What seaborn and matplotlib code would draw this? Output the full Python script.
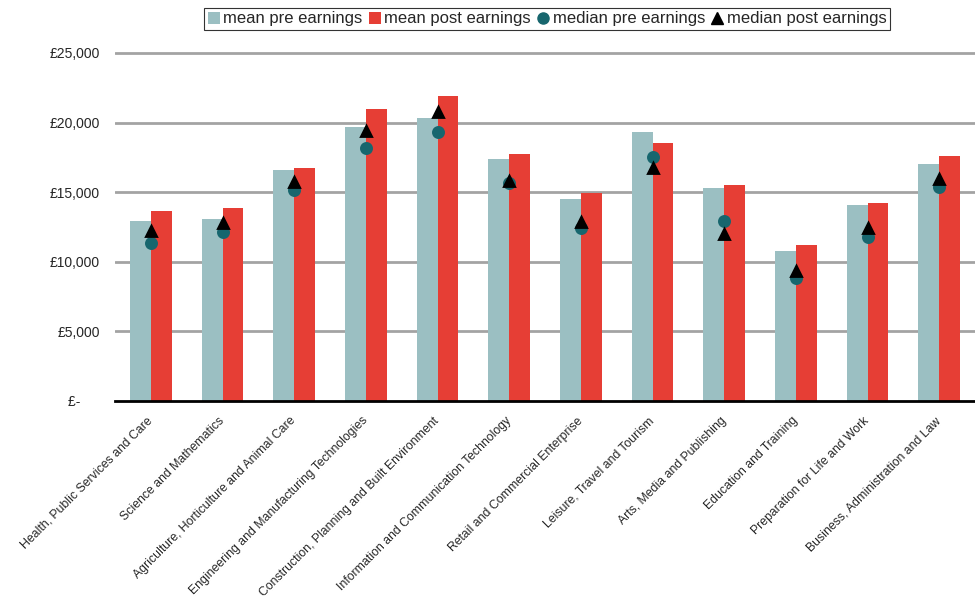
import numpy as np
import pandas as pd
import matplotlib
matplotlib.use("Agg")
import matplotlib.pyplot as plt
from matplotlib.ticker import FixedLocator
from matplotlib.lines import Line2D
from matplotlib.patches import Patch
import seaborn as sns

categories = [
    "Health, Public Services and Care",
    "Science and Mathematics",
    "Agriculture, Horticulture and Animal Care",
    "Engineering and Manufacturing Technologies",
    "Construction, Planning and Built Environment",
    "Information and Communication Technology",
    "Retail and Commercial Enterprise",
    "Leisure, Travel and Tourism",
    "Arts, Media and Publishing",
    "Education and Training",
    "Preparation for Life and Work",
    "Business, Administration and Law",
]
mean_pre = [12930, 13070, 16590, 19680, 20330, 17390, 14510, 19320, 15300, 10780, 14080, 17030]
mean_post = [13650, 13890, 16740, 20980, 21910, 17740, 14940, 18530, 15520, 11210, 14220, 17600]
median_pre = [11370, 12120, 15160, 18150, 19290, 15640, 12400, 17560, 12910, 8840, 11800, 15370]
median_post = [12230, 12810, 15760, 19420, 20730, 15800, 12840, 16760, 12000, 9360, 12400, 15970]
y_ticks = [0, 5000, 10000, 15000, 20000, 25000]
y_tick_labels = ["£-     ", "£5,000", "£10,000", "£15,000", "£20,000", "£25,000"]
series_names = ["mean pre earnings", "mean post earnings", "median pre earnings", "median post earnings"]

c_pre = "#9BBFC2"
c_post = "#E63E35"
c_med_pre = "#17666E"
c_med_post = "#000000"

sns.set_style("white")
plt.rcParams["font.family"] = ["Liberation Sans", "DejaVu Sans"]

bars = pd.DataFrame({
    "category": categories * 2,
    "value": mean_pre + mean_post,
    "series": [series_names[0]] * len(categories) + [series_names[1]] * len(categories),
})
meds = pd.DataFrame({"category": categories, "median_pre": median_pre, "median_post": median_post})

fig = plt.figure(figsize=(9.75, 6), dpi=100)
ax = fig.add_axes([0.118, 0.3317, 0.882, 0.6033])

sns.barplot(data=bars, x="category", y="value", hue="series", order=categories,
            hue_order=series_names[:2], palette=[c_pre, c_post], width=0.58,
            saturation=1, errorbar=None, ax=ax, legend=False, zorder=3,
            linewidth=0, edgecolor="none")
sns.pointplot(data=meds, x="category", y="median_pre", order=categories,
              color=c_med_pre, linestyle="none", marker="o", markersize=7.3,
              errorbar=None, ax=ax, zorder=4)
sns.pointplot(data=meds, x="category", y="median_post", order=categories,
              color=c_med_post, linestyle="none", marker="^", markersize=7.3,
              errorbar=None, ax=ax, zorder=5)

ax.set_ylim(0, 26000)
ax.set_xlim(-0.5, len(categories) - 0.5)
ax.set_yticks(y_ticks)
ax.set_yticklabels(y_tick_labels, fontsize=10)
for v in y_ticks[1:]:
    ax.axhline(v, color="#A3A3A3", lw=2, zorder=1)
ax.tick_params(axis="y", length=0, pad=11)

ax.set_xlabel("")
ax.set_ylabel("")
ax.set_xticks(range(len(categories)))
ax.set_xticklabels(categories, rotation=45, ha="right", va="center",
                   rotation_mode="anchor", fontsize=8.8)
ax.tick_params(axis="x", which="major", length=0, pad=13)
ax.xaxis.set_minor_locator(FixedLocator(np.arange(-0.5, len(categories), 1.0)))
ax.tick_params(axis="x", which="minor", length=5, width=1.8, color="black", direction="out")

for s in ["top", "right", "left"]:
    ax.spines[s].set_visible(False)
ax.spines["bottom"].set_color("black")
ax.spines["bottom"].set_linewidth(2)
ax.spines["bottom"].set_zorder(6)

handles = [
    Patch(facecolor=c_pre, edgecolor="none"),
    Patch(facecolor=c_post, edgecolor="none"),
    Line2D([], [], marker="o", color=c_med_pre, linestyle="none", markersize=8),
    Line2D([], [], marker="^", color=c_med_post, linestyle="none", markersize=8),
]
leg = ax.legend(handles, series_names, loc="center",
                bbox_to_anchor=(547 / 975, 1 - 19 / 600), bbox_transform=fig.transFigure,
                ncol=4, frameon=True, fancybox=False, fontsize=12,
                handlelength=0.75, handleheight=0.75, handletextpad=0.2, columnspacing=0.35,
                borderpad=0.2, borderaxespad=0)
leg.get_frame().set_edgecolor("black")
leg.get_frame().set_linewidth(0.8)

fig.savefig("out.png", dpi=100)
